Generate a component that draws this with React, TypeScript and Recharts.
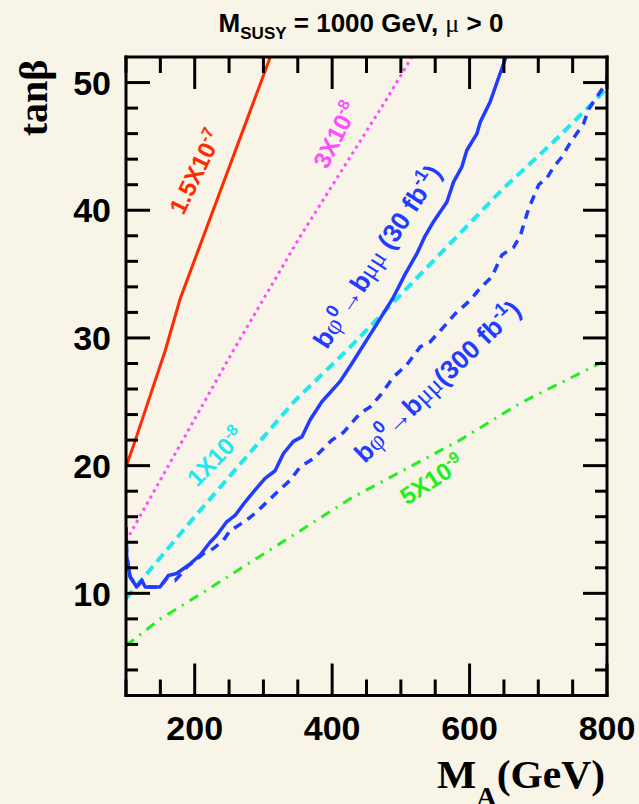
import React from 'react';
import { LineChart, Line, XAxis, YAxis } from 'recharts';

const W = 639;
const H = 804;
const BG = '#f8f4e8';
const SANS = '"Liberation Sans", Arial, Helvetica, sans-serif';
const SERIF = '"Liberation Serif", "Times New Roman", serif';

// contours (M_A in GeV, tan beta)
const redX = [100, 113, 157, 179, 310];
const redY = [19.9, 21.9, 29.0, 33.1, 52.0];

const magentaX = [100, 256, 353, 477, 516];
const magentaY = [14.1, 29.0, 37.9, 48.5, 52.0];

const cyanX = [100, 200, 346, 421, 649, 723, 781, 800];
const cyanY = [9.6, 16.0, 25.1, 29.0, 41.7, 45.4, 48.5, 49.6];

const greenX = [100, 150, 210, 365, 426, 586, 674, 800];
const greenY = [5.9, 8.0, 10.0, 15.3, 17.4, 22.0, 24.9, 28.3];

const blue30X = [100, 101, 106, 115.5, 123, 128, 149.5, 161.6, 173.8, 193.2, 207.8, 222.3, 232.1, 246.6, 258.7, 273.3, 287.9, 302.4, 317, 329.1, 343.6, 355.9, 368, 385, 411.6, 428.7, 465.1, 489.3, 506.3, 523.3, 535.4, 547.5, 567, 576.6, 588.8, 596, 610.7, 615.5, 630, 639.8, 653];
const blue30Y = [15.2, 12.9, 11.3, 10.5, 11.0, 10.5, 10.5, 11.4, 11.55, 12.3, 13.0, 14.0, 14.55, 15.6, 16.1, 17.15, 18.1, 19.0, 19.6, 20.95, 21.9, 22.25, 23.6, 25.0, 26.6, 28.0, 31.1, 33.2, 35.0, 36.6, 38.0, 39.1, 40.65, 42.2, 43.4, 44.7, 46.0, 46.9, 48.5, 50.0, 52.0];

const blue300X = [100, 101, 106, 115.5, 123, 128, 149.5, 160, 171.4, 181.1, 188.4, 212.6, 227.1, 241.7, 251.4, 266, 280.6, 292.7, 309.7, 324.3, 338.8, 353.4, 372.8, 399.6, 416.4, 440.8, 455.3, 469.9, 489.3, 508.8, 528.1, 542.7, 562.1, 579.1, 600.9, 615.5, 632.5, 647.1, 664, 673.8, 685.8, 700.6, 712.8, 722.6, 734.7, 744.4, 766, 773.3, 783, 793, 800, 800];
const blue300Y = [15.2, 12.9, 11.3, 10.5, 11.0, 10.5, 10.5, 11.2, 11.0, 11.55, 12.05, 13.1, 13.5, 14.15, 14.9, 15.4, 15.95, 16.5, 17.4, 18.15, 18.85, 19.9, 20.55, 22.0, 22.6, 24.1, 24.6, 25.5, 26.95, 27.9, 29.3, 29.7, 30.85, 31.9, 32.95, 33.9, 34.8, 36.5, 37.1, 38.0, 40.1, 42.0, 42.55, 43.4, 44.2, 45.1, 46.8, 47.9, 48.7, 49.5, 50.0, 50.6];

const xTicks = [100, 150, 200, 250, 300, 350, 400, 450, 500, 550, 600, 650, 700, 750, 800];
const xLabels = [200, 400, 600, 800];
const yTicks = [4, 6, 8, 10, 12, 14, 16, 18, 20, 22, 24, 26, 28, 30, 32, 34, 36, 38, 40, 42, 44, 46, 48, 50];
const yLabels = [10, 20, 30, 40, 50];

const zip = (xs: number[], ys: number[]) => xs.map((x, i) => ({ x, y: ys[i] }));

const tickFont = { fontFamily: SANS, fontWeight: 700, fontSize: 34, fill: '#000' };

// ticks point into the frame, long ones at labelled values
const BottomTick = (p: any) => {
  const v = p.payload.value;
  const big = xLabels.includes(v);
  const y0 = p.y - 20;
  return (
    <g>
      <line x1={p.x} x2={p.x} y1={y0} y2={y0 - (big ? 32 : 16)} stroke="#000" strokeWidth={3} />
      {big && <text x={p.x} y={p.y} dy="0.72em" textAnchor="middle" {...tickFont}>{v}</text>}
    </g>
  );
};

const TopTick = (p: any) => {
  const big = xLabels.includes(p.payload.value);
  return <line x1={p.x} x2={p.x} y1={p.y} y2={p.y + (big ? 32 : 16)} stroke="#000" strokeWidth={3} />;
};

const LeftTick = (p: any) => {
  const v = p.payload.value;
  const big = yLabels.includes(v);
  const x0 = p.x + 15;
  return (
    <g>
      <line x1={x0} x2={x0 + (big ? 24 : 12)} y1={p.y} y2={p.y} stroke="#000" strokeWidth={3} />
      {big && <text x={p.x} y={p.y} dy="0.36em" textAnchor="end" {...tickFont}>{v}</text>}
    </g>
  );
};

const RightTick = (p: any) => {
  const big = yLabels.includes(p.payload.value);
  return <line x1={p.x} x2={p.x - (big ? 24 : 12)} y1={p.y} y2={p.y} stroke="#000" strokeWidth={3} />;
};

const frame = { stroke: '#000', strokeWidth: 3, strokeLinecap: 'square' as const };

const Rot = ({ cx, cy, a, color, size = 24, children }: any) => (
  <text
    transform={`translate(${cx},${cy}) rotate(${a})`}
    y={8}
    textAnchor="middle"
    fill={color}
    fontFamily={SANS}
    fontWeight={700}
    fontSize={size}
  >
    {children}
  </text>
);

const Sup = ({ children, s = 16 }: any) => (
  <>
    <tspan dy={-s * 0.6} fontSize={s}>{children}</tspan>
    <tspan dy={s * 0.6}>{'\u200b'}</tspan>
  </>
);

const Sym = ({ children }: any) => (
  <tspan fontFamily={SERIF} fontWeight={400}>{children}</tspan>
);

const BLUE = '#1f3cff';

export default function App() {
  return (
    <div style={{ position: 'absolute', left: 0, top: 0, width: W, height: H, background: BG, overflow: 'hidden' }}>
      <LineChart width={W} height={H} margin={{ top: 56, right: 31, bottom: 0, left: 0 }}>
        <XAxis xAxisId="b" type="number" dataKey="x" domain={[100, 800]} allowDataOverflow ticks={xTicks} interval={0}
          height={108.5} tickSize={0} tickMargin={20} tickLine={false} axisLine={frame} tick={BottomTick} />
        <XAxis xAxisId="t" orientation="top" type="number" dataKey="x" domain={[100, 800]} allowDataOverflow ticks={xTicks}
          interval={0} height={1} tickSize={0} tickMargin={0} tickLine={false} axisLine={frame} tick={TopTick} />
        <YAxis yAxisId="l" type="number" domain={[2, 52]} allowDataOverflow ticks={yTicks} interval={0}
          width={126} tickSize={0} tickMargin={15} tickLine={false} axisLine={frame} tick={LeftTick} />
        <YAxis yAxisId="r" orientation="right" type="number" domain={[2, 52]} allowDataOverflow ticks={yTicks}
          interval={0} width={1} tickSize={0} tickMargin={0} tickLine={false} axisLine={frame} tick={RightTick} />

        {/* invisible copy so the top and right axes have a series */}
        <Line xAxisId="t" yAxisId="r" data={zip(redX, redY)} dataKey="y" stroke="none" dot={false}
          isAnimationActive={false} />

        <Line xAxisId="b" yAxisId="l" data={zip(greenX, greenY)} dataKey="y" stroke="#22ee22" strokeWidth={3}
          strokeDasharray="10 7 2 7" dot={false} isAnimationActive={false} />
        <Line xAxisId="b" yAxisId="l" data={zip(cyanX, cyanY)} dataKey="y" stroke="#1ee8f0" strokeWidth={4}
          strokeDasharray="10 6" dot={false} isAnimationActive={false} />
        <Line xAxisId="b" yAxisId="l" data={zip(magentaX, magentaY)} dataKey="y" stroke="#ff4cff" strokeWidth={3}
          strokeDasharray="3 4" dot={false} isAnimationActive={false} />
        <Line xAxisId="b" yAxisId="l" data={zip(redX, redY)} dataKey="y" stroke="#ff2a00" strokeWidth={3}
          dot={false} isAnimationActive={false} />
        <Line xAxisId="b" yAxisId="l" data={zip(blue300X, blue300Y)} dataKey="y" stroke={BLUE} strokeWidth={3.5}
          strokeDasharray="9 7" dot={false} isAnimationActive={false} />
        <Line xAxisId="b" yAxisId="l" data={zip(blue30X, blue30Y)} dataKey="y" stroke={BLUE} strokeWidth={3.5}
          strokeLinejoin="round" dot={false} isAnimationActive={false} />
      </LineChart>

      <svg width={W} height={H} style={{ position: 'absolute', left: 0, top: 0, pointerEvents: 'none' }}>
        <text x={361} y={32} textAnchor="middle" fontFamily={SANS} fontWeight={700} fontSize={26} fill="#000">
          M<tspan dy={7} fontSize={17}>SUSY</tspan><tspan dy={-7}> = 1000 GeV, </tspan>
          <Sym>μ</Sym> &gt; 0
        </text>

        <text transform="translate(47,98) rotate(-90)" textAnchor="middle" fontFamily={SERIF} fontWeight={700}
          fontSize={40} fill="#000">
          tanβ
        </text>

        <text x={437} y={788} fontFamily={SERIF} fontWeight={700} fontSize={41} fill="#000"
          textLength={168} lengthAdjust="spacingAndGlyphs">
          M<tspan dy={18} fontSize={28}>A</tspan><tspan dy={-18}>(GeV)</tspan>
        </text>

        <Rot cx={196} cy={172} a={-64} color="#ff2a00">1.5X10<Sup>-7</Sup></Rot>
        <Rot cx={336} cy={135} a={-63} color="#ff4cff">3X10<Sup>-8</Sup></Rot>
        <Rot cx={216} cy={457} a={-46} color="#1ee8f0">1X10<Sup>-8</Sup></Rot>
        <Rot cx={432} cy={480} a={-33} color="#22ee22">5X10<Sup>-9</Sup></Rot>
        <Rot cx={378} cy={257} a={-57} color={BLUE} size={26}>
          b<Sym>φ</Sym><Sup s={18}>0</Sup><Sym>→</Sym>b<Sym>μμ</Sym> (30 fb<Sup s={18}>-1</Sup>)
        </Rot>
        <Rot cx={438} cy={382} a={-44} color={BLUE} size={26}>
          b<Sym>φ</Sym><Sup s={18}>0</Sup><Sym>→</Sym>b<Sym>μμ</Sym>(300 fb<Sup s={18}>-1</Sup>)
        </Rot>
      </svg>
    </div>
  );
}
